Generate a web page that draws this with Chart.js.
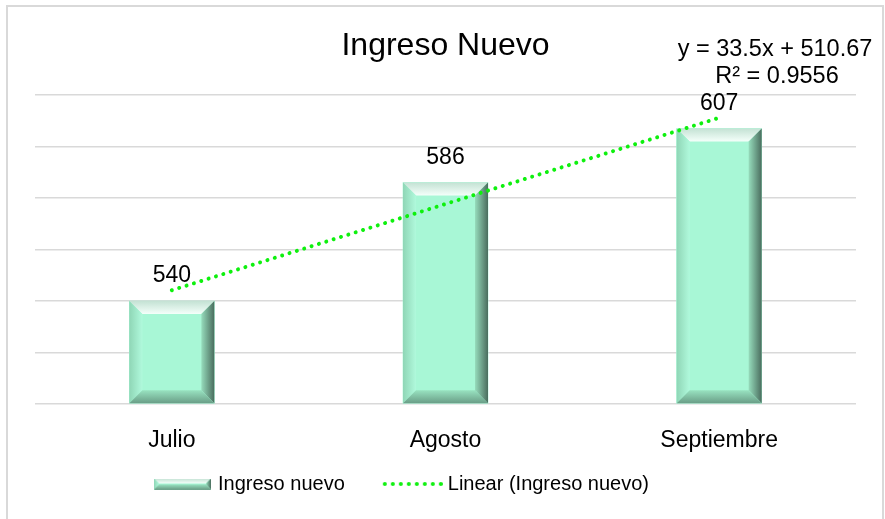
<!DOCTYPE html>
<html>
<head>
<meta charset="utf-8">
<script src="https://cdn.jsdelivr.net/npm/chart.js@4.4.1/dist/chart.umd.min.js"></script>
<style>
  html, body { margin: 0; padding: 0; background: #fff; }
  #chart { display: block; }
</style>
</head>
<body>
<canvas id="chart" width="885" height="519"></canvas>
<script>
// values
const months = ['Julio', 'Agosto', 'Septiembre'];
const ingresoNuevo = [540, 586, 607];
const trendValues = [544.17, 577.67, 611.17]; // trendline y = 33.5x + 510.67 at each month
const trendText = ['y = 33.5x + 510.67', 'R² = 0.9556'];
const yMin = 500, yMax = 620, yStep = 20;

const FONT = "'Liberation Sans', Arial, sans-serif";
Chart.defaults.font.family = FONT;
Chart.defaults.color = '#000';

// bevelled box like the excel bar
function bevelRect(ctx, x, y, w, h, b) {
  b = Math.min(b, h / 2, w / 2);
  ctx.save();
  ctx.fillStyle = '#a8f7d6';
  ctx.fillRect(x, y, w, h);
  // top
  let g = ctx.createLinearGradient(0, y, 0, y + b);
  g.addColorStop(0, '#c4e2d4');
  g.addColorStop(1, '#f4fffa');
  ctx.fillStyle = g;
  ctx.beginPath();
  ctx.moveTo(x, y); ctx.lineTo(x + w, y); ctx.lineTo(x + w - b, y + b); ctx.lineTo(x + b, y + b);
  ctx.closePath(); ctx.fill();
  // left
  g = ctx.createLinearGradient(x, 0, x + b, 0);
  g.addColorStop(0, '#8fd6b6');
  g.addColorStop(1, '#b0f9dc');
  ctx.fillStyle = g;
  ctx.beginPath();
  ctx.moveTo(x, y); ctx.lineTo(x + b, y + b); ctx.lineTo(x + b, y + h - b); ctx.lineTo(x, y + h);
  ctx.closePath(); ctx.fill();
  // right
  g = ctx.createLinearGradient(x + w - b, 0, x + w, 0);
  g.addColorStop(0, '#96dcbc');
  g.addColorStop(1, '#4a6d5e');
  ctx.fillStyle = g;
  ctx.beginPath();
  ctx.moveTo(x + w, y); ctx.lineTo(x + w, y + h); ctx.lineTo(x + w - b, y + h - b); ctx.lineTo(x + w - b, y + b);
  ctx.closePath(); ctx.fill();
  // bottom
  g = ctx.createLinearGradient(0, y + h - b, 0, y + h);
  g.addColorStop(0, '#98e2c0');
  g.addColorStop(1, '#6a9e87');
  ctx.fillStyle = g;
  ctx.beginPath();
  ctx.moveTo(x, y + h); ctx.lineTo(x + w, y + h); ctx.lineTo(x + w - b, y + h - b); ctx.lineTo(x + b, y + h - b);
  ctx.closePath(); ctx.fill();
  ctx.restore();
}

// legend icons
const barIcon = document.createElement('canvas');
barIcon.width = 64; barIcon.height = 11;
bevelRect(barIcon.getContext('2d'), 7, 0, 57, 11, 5);

const lineIcon = document.createElement('canvas');
lineIcon.width = 68; lineIcon.height = 6;
(function () {
  const c = lineIcon.getContext('2d');
  c.fillStyle = '#0ef00e';
  for (let i = 0; i < 8; i++) {
    c.beginPath();
    c.arc(10 + i * 8, 3, 2, 0, Math.PI * 2);
    c.fill();
  }
})();

const frame = {
  id: 'frame',
  beforeDraw(chart) {
    const ctx = chart.ctx;
    ctx.save();
    ctx.strokeStyle = '#d9d9d9';
    ctx.lineWidth = 2;
    ctx.strokeRect(7, 6, 876, 540);
    ctx.restore();
  }
};

const bevel = {
  id: 'bevel',
  afterDatasetDraw(chart, args) {
    if (args.index !== 0) return;
    const ctx = chart.ctx;
    args.meta.data.forEach(bar => {
      const p = bar.getProps(['x', 'y', 'base', 'width'], true);
      bevelRect(ctx, p.x - p.width / 2, p.y, p.width, p.base - p.y, 13);
    });
  }
};

const labels = {
  id: 'labels',
  afterDatasetsDraw(chart) {
    const ctx = chart.ctx;
    ctx.save();
    ctx.font = '23px ' + FONT;
    ctx.fillStyle = '#000';
    ctx.textAlign = 'center';
    ctx.textBaseline = 'middle';
    chart.getDatasetMeta(0).data.forEach((bar, i) => {
      ctx.fillText(String(ingresoNuevo[i]), bar.x, bar.y - 25);
    });
    const a = chart.chartArea;
    ctx.font = '23.5px ' + FONT;
    ctx.fillText(trendText[0], a.right - 81, a.top - 45);
    ctx.fillText(trendText[1], a.right - 79, a.top - 18);
    ctx.restore();
  }
};

// excel legend sits left of centre and a bit higher
const legendShift = {
  id: 'legendShift',
  afterLayout(chart) {
    const lg = chart.legend;
    lg.right = 2 * 150 - lg.left - lg.options.labels.padding + lg.lineWidths[0];
    lg.top -= 15;
    lg.bottom -= 15;
  }
};

new Chart(document.getElementById('chart'), {
  type: 'bar',
  data: {
    labels: months,
    datasets: [
      {
        label: 'Ingreso nuevo',
        data: ingresoNuevo,
        base: yMin,
        backgroundColor: '#a8f7d6',
        barThickness: 85,
        order: 1
      },
      {
        type: 'line',
        label: 'Linear (Ingreso nuevo)',
        data: trendValues,
        borderColor: '#0ef00e',
        borderWidth: 4,
        borderDash: [0.01, 7.7],
        borderCapStyle: 'round',
        pointRadius: 0,
        fill: false,
        order: 0
      }
    ]
  },
  options: {
    responsive: false,
    animation: false,
    layout: { padding: { left: 0, right: 29, top: 0, bottom: 0 } },
    plugins: {
      tooltip: { enabled: false },
      title: {
        display: true,
        fullSize: false,
        text: 'Ingreso Nuevo',
        color: '#000',
        font: { size: 32, weight: 'normal' },
        padding: { top: 27.3, bottom: 29.3 }
      },
      legend: {
        position: 'bottom',
        labels: {
          usePointStyle: true,
          pointStyleWidth: 58,
          padding: 35,
          color: '#000',
          font: { size: 20 },
          generateLabels: () => [
            { text: 'Ingreso nuevo', pointStyle: barIcon, fontColor: '#000', hidden: false, datasetIndex: 0, lineWidth: 0 },
            { text: 'Linear (Ingreso nuevo)', pointStyle: lineIcon, fontColor: '#000', hidden: false, datasetIndex: 1, lineWidth: 0 }
          ]
        }
      }
    },
    scales: {
      x: {
        grid: { display: false },
        border: { display: false },
        ticks: { color: '#000', font: { size: 23 }, padding: 15 },
        afterFit(scale) { scale.height = 50; }
      },
      y: {
        min: yMin,
        max: yMax,
        ticks: { display: false, stepSize: yStep },
        grid: { color: '#d9d9d9', lineWidth: 1.5, drawTicks: false },
        border: { display: false },
        afterFit(scale) { scale.width = 35; }
      }
    }
  },
  plugins: [frame, bevel, labels, legendShift]
});
</script>
</body>
</html>
